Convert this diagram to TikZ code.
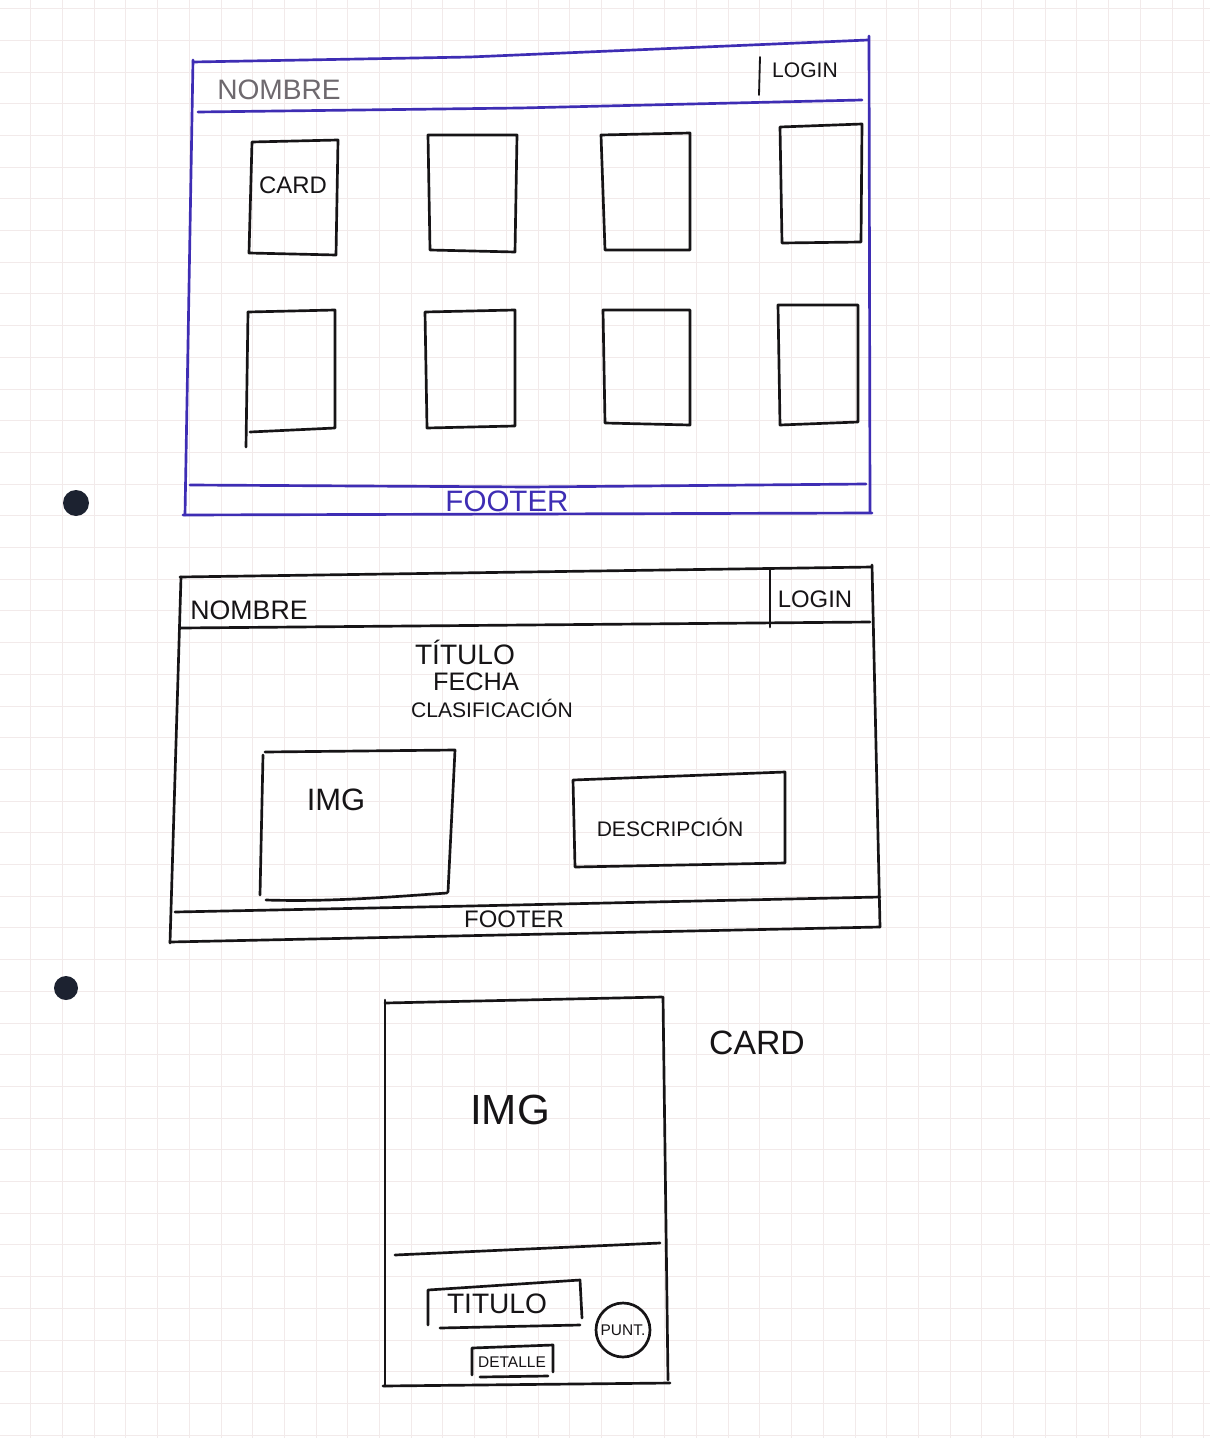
\documentclass[tikz,border=0pt]{standalone}
\usepackage{fontspec}
\setmainfont{Liberation Sans}
\definecolor{gridline}{RGB}{242,234,234}
\definecolor{ink}{RGB}{22,20,22}
\definecolor{blueink}{RGB}{62,45,180}
\definecolor{pencil}{RGB}{110,105,110}
\definecolor{hole}{RGB}{28,34,48}
\tikzset{
  sketch/.style={draw=ink, line width=1.9pt, line cap=round, line join=round},
  bluesketch/.style={draw=blueink, line width=1.9pt, line cap=round, line join=round},
  lbl/.style={text=ink, inner sep=0pt, anchor=center},
}
\newcommand{\fs}[1]{\fontsize{#1}{#1}\selectfont}
\begin{document}
\begin{tikzpicture}[x=0.025cm,y=-0.025cm]
\useasboundingbox (0,0) rectangle (1210,1438);
\fill[white] (0,0) rectangle (1210,1438);
% squared paper
\foreach \k in {0,...,38} {\draw[gridline, line width=0.5pt] ({31.7*\k-1},0) -- ({31.7*\k-1},1438);}
\foreach \k in {0,...,45} {\draw[gridline, line width=0.5pt] (0,{31.7*\k+8.5}) -- (1210,{31.7*\k+8.5});}
% binder holes
\fill[hole] (76,503) circle (13);
\fill[hole] (66,988) circle (12);

% ---------- home page ----------
\draw[bluesketch] (193,62) -- (470,57) -- (868,40);
\draw[bluesketch] (869,36) -- (870,512);
\draw[bluesketch] (183,515) -- (872,513);
\draw[bluesketch] (193,60) -- (185,515);
\draw[bluesketch] (198,112) -- (520,108) -- (862,100);
\draw[sketch, line width=1.3pt] (760,57) -- (759,95);
\draw[bluesketch] (190,485) -- (530,487) -- (866,484);
\node[lbl, text=pencil, font=\fs{20}] (hname) at (279,90) {NOMBRE};
\node[lbl, font=\fs{15}] (hlogin) at (805,70) {LOGIN};
\node[lbl, text=blueink, font=\fs{21}] (hfooter) at (507,501) {FOOTER};
% card grid
\draw[sketch] (252,142) -- (338,140) -- (336,255) -- (249,253) -- cycle;
\draw[sketch] (428,135) -- (517,135) -- (515,252) -- (430,250) -- cycle;
\draw[sketch] (601,135) -- (690,133) -- (690,250) -- (605,250) -- cycle;
\draw[sketch] (780,127) -- (862,124) -- (861,242) -- (782,243) -- cycle;
\draw[sketch] (248,312) -- (335,310) -- (335,428) -- (250,432);
\draw[sketch] (248,312) -- (246,447);
\draw[sketch] (425,312) -- (515,310) -- (515,426) -- (427,428) -- cycle;
\draw[sketch] (603,310) -- (690,310) -- (690,425) -- (605,423) -- cycle;
\draw[sketch] (778,305) -- (858,305) -- (858,422) -- (780,425) -- cycle;
\node[lbl, font=\fs{17}] (hcard) at (293,185) {CARD};

% ---------- detail page ----------
\draw[sketch] (180,577) -- (872,567);
\draw[sketch] (872,565) -- (880,927);
\draw[sketch] (170,942) -- (880,927);
\draw[sketch] (181,577) -- (170,943);
\draw[sketch] (181,628) -- (870,622);
\draw[sketch] (770,570) -- (770,627);
\node[lbl, font=\fs{19}] (dname) at (249,610) {NOMBRE};
\node[lbl, font=\fs{17}] (dlogin) at (815,599) {LOGIN};
\node[lbl, font=\fs{20}] (dtitle) at (465,652) {TÍTULO};
\node[lbl, font=\fs{18}] (ddate) at (476,682) {FECHA};
\node[lbl, font=\fs{15}] (drating) at (492,708) {CLASIFICACIÓN};
\draw[sketch] (263,755) -- (260,895);
\draw[sketch] (265,752) -- (455,750) -- (448,892);
\draw[sketch] (266,900) .. controls (330,902) and (390,897) .. (447,893);
\node[lbl, font=\fs{22}] (dimg) at (336,800) {IMG};
\draw[sketch] (573,780) -- (785,772) -- (785,863) -- (575,867) -- cycle;
\node[lbl, font=\fs{15}] (ddesc) at (670,827) {DESCRIPCIÓN};
\draw[sketch] (175,912) -- (470,906) -- (880,897);
\node[lbl, font=\fs{17}] (dfooter) at (514,919) {FOOTER};

% ---------- card ----------
\draw[sketch] (385,1003) -- (662,997);
\draw[sketch] (385,1000) -- (385,1386);
\draw[sketch] (663,997) -- (668,1380);
\draw[sketch] (383,1386) -- (670,1383);
\draw[sketch] (395,1255) -- (660,1243);
\node[lbl, font=\fs{30}] (cimg) at (510,1110) {IMG};
\draw[sketch] (428,1325) -- (428,1290) -- (580,1280) -- (582,1318);
\draw[sketch] (440,1328) -- (580,1325);
\node[lbl, font=\fs{20}] (ctitle) at (497,1304) {TITULO};
\draw[sketch] (623,1330) circle (27);
\node[lbl, font=\fs{11}] (cscore) at (623,1330) {PUNT.};
\draw[sketch] (472,1375) -- (472,1348) -- (553,1345) -- (553,1372);
\draw[sketch] (480,1377) -- (548,1376);
\node[lbl, font=\fs{11}] (cdetail) at (512,1362) {DETALLE};
\node[lbl, font=\fs{24}] (clabel) at (757,1043) {CARD};
\end{tikzpicture}
\end{document}
